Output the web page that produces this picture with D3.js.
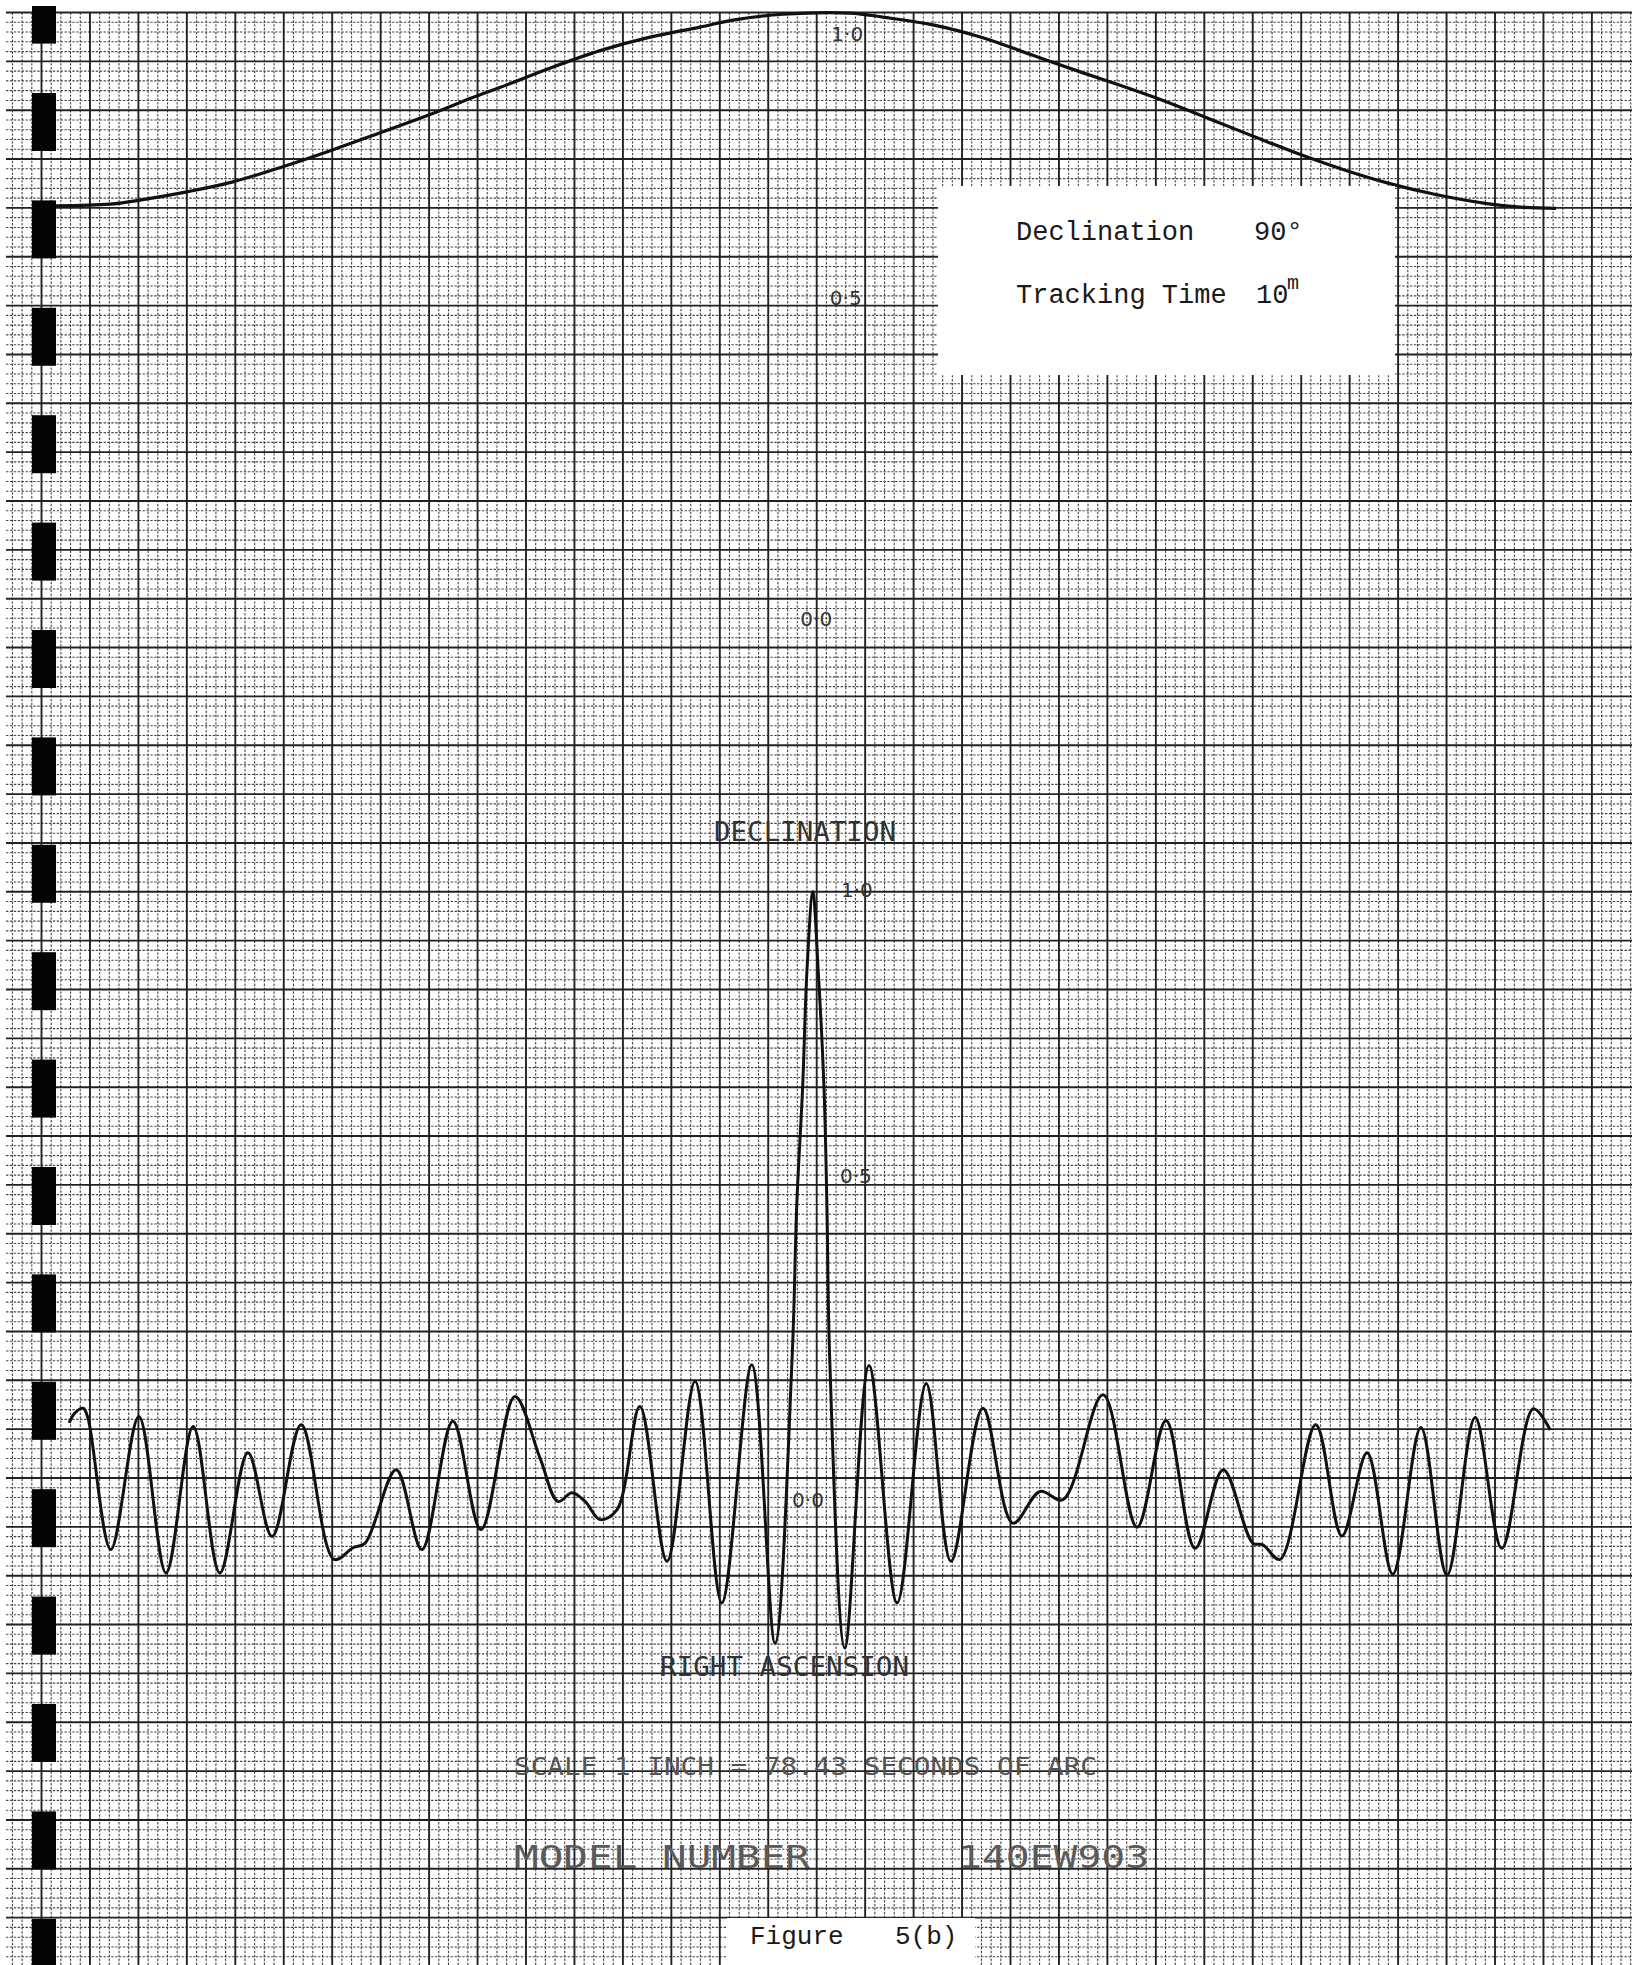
<!DOCTYPE html>
<html>
<head>
<meta charset="utf-8">
<script src="https://cdn.jsdelivr.net/npm/d3@7"></script>
<style>
  body { margin: 0; background: #fff; }
  svg { display: block; }
</style>
</head>
<body>
<svg id="chart" width="1632" height="1965"></svg>
<script>
const width = 1632;
const height = 1965;

// positions are in major grid divisions counted from the binder line
// top trace: declination response
const topPosition = [0.30, 1.41, 2.03, 3.00, 3.95, 4.98, 6.02, 6.99, 8.02, 8.90, 9.46,
  10.49, 11.53, 12.56, 13.59, 14.27, 15.30, 16.69, 17.37, 18.40, 19.43, 20.46, 21.50,
  22.26, 23.15, 24.06, 25.01, 25.97, 26.94, 27.83, 28.80, 29.83, 30.52, 31.26];
const topResponse = [0.670, 0.673, 0.680, 0.694, 0.711, 0.737, 0.766, 0.795, 0.826, 0.855, 0.872,
  0.905, 0.935, 0.958, 0.975, 0.987, 0.997, 0.999, 0.992, 0.979, 0.957, 0.927, 0.897,
  0.876, 0.850, 0.820, 0.789, 0.758, 0.730, 0.708, 0.689, 0.674, 0.668, 0.666];

// bottom trace: right ascension response
const bottomPosition = [0.57, 0.69, 0.86, 0.96, 1.43, 2.01, 2.57, 3.13, 3.68, 4.26, 4.76,
  5.36, 6.04, 6.43, 6.68, 7.32, 7.85, 8.49, 9.07, 9.77, 10.29, 10.66, 10.95, 11.22,
  11.53, 11.88, 12.35, 12.91, 13.49, 14.04, 14.66, 15.14, 15.49, 15.59, 15.71, 15.80,
  15.92, 16.03, 16.15, 16.21, 16.27, 16.58, 17.08, 17.66, 18.26, 18.77, 19.43, 20.05,
  20.61, 21.08, 21.91, 22.61, 23.21, 23.81, 24.39, 25.00, 25.21, 25.56, 26.30, 26.84,
  27.36, 27.89, 28.47, 29.01, 29.59, 30.14, 30.79, 31.14];
const bottomResponse = [0.094, 0.111, 0.119, 0.102, -0.122, 0.105, -0.162, 0.088, -0.162, 0.043, -0.100,
  0.091, -0.139, -0.119, -0.111, 0.014, -0.122, 0.097, -0.088, 0.139, 0.034, -0.040, -0.025, -0.040,
  -0.071, -0.054, 0.122, -0.142, 0.165, -0.213, 0.193, -0.282, 0.200, 0.469, 0.667, 0.867,
  1.000, 0.867, 0.667, 0.469, 0.200, -0.290, 0.192, -0.213, 0.161, -0.142, 0.119, -0.077,
  -0.023, -0.037, 0.142, -0.084, 0.098, -0.120, 0.014, -0.111, -0.114, -0.139, 0.091, -0.099,
  0.043, -0.164, 0.086, -0.166, 0.103, -0.120, 0.118, 0.082];

const tickValues = [1, 0.5, 0];
const tickLabels = ["1·0", "0·5", "0·0"];

const svg = d3.select("#chart");

// === PAPER GRID ===
const colStep = 48.45;
const rowStep = 48.85;
const gridLeft = 41.5;
const gridTop = 12.5;

const x = d3.scaleLinear().domain([0, 33]).range([gridLeft, gridLeft + 33 * colStep]);
const row = d3.scaleLinear().domain([0, 40]).range([gridTop, gridTop + 40 * rowStep]);
const yTop = d3.scaleLinear().domain([0, 1]).range([row(12), row(0)]);
const yBottom = d3.scaleLinear().domain([0, 1]).range([row(30), row(18)]);

svg.append("rect").attr("width", width).attr("height", height).attr("fill", "#fff");

const gridG = svg.append("g");

const cols = d3.range(-7, 33 * 5 + 1).map(i => ({ i, px: x(i / 5) }))
  .filter(d => d.px >= 6 && d.px <= width);
const rows = d3.range(0, 40 * 5 + 1).map(i => ({ i, px: row(i / 5) }))
  .filter(d => d.px <= height);

gridG.selectAll("line.vminor")
  .data(cols.filter(d => d.i % 5 !== 0))
  .join("line")
  .attr("x1", d => d.px).attr("x2", d => d.px)
  .attr("y1", gridTop).attr("y2", height)
  .attr("stroke", "#454545")
  .attr("stroke-width", 1.1)
  .attr("stroke-dasharray", "2.4,1.5");

gridG.selectAll("line.hminor")
  .data(rows.filter(d => d.i % 5 !== 0))
  .join("line")
  .attr("y1", d => d.px).attr("y2", d => d.px)
  .attr("x1", 6).attr("x2", width)
  .attr("stroke", "#454545")
  .attr("stroke-width", 1.1)
  .attr("stroke-dasharray", "2.4,1.5");

gridG.selectAll("line.vmajor")
  .data(cols.filter(d => d.i % 5 === 0))
  .join("line")
  .attr("x1", d => d.px).attr("x2", d => d.px)
  .attr("y1", gridTop).attr("y2", height)
  .attr("stroke", "#222")
  .attr("stroke-width", 1.9);

gridG.selectAll("line.hmajor")
  .data(rows.filter(d => d.i % 5 === 0))
  .join("line")
  .attr("y1", d => d.px).attr("y2", d => d.px)
  .attr("x1", 6).attr("x2", width)
  .attr("stroke", "#222")
  .attr("stroke-width", 1.9);

// binder holes down the left edge
const holes = d3.range(0, 19).map(i => 93 + 107.4 * (i - 1));
svg.append("g").selectAll("rect")
  .data(holes)
  .join("rect")
  .attr("x", 32)
  .attr("width", 24)
  .attr("y", d => Math.max(6, d))
  .attr("height", d => d + 58 - Math.max(6, d))
  .attr("fill", "#050505");

// === TRACES ===
const topLine = d3.line()
  .x(d => x(d[0]))
  .y(d => yTop(d[1]))
  .curve(d3.curveCatmullRom.alpha(0.5));

const bottomLine = d3.line()
  .x(d => x(d[0]))
  .y(d => yBottom(d[1]))
  .curve(d3.curveCatmullRom.alpha(0.5));

svg.append("path")
  .datum(d3.zip(topPosition, topResponse))
  .attr("d", topLine)
  .attr("fill", "none")
  .attr("stroke", "#111")
  .attr("stroke-width", 3.2)
  .attr("stroke-linejoin", "round");

svg.append("path")
  .datum(d3.zip(bottomPosition, bottomResponse))
  .attr("d", bottomLine)
  .attr("fill", "none")
  .attr("stroke", "#111")
  .attr("stroke-width", 3)
  .attr("stroke-linejoin", "round");

// === HAND-WRITTEN SCALE MARKS ===
const topTickX = [16.63, 16.6, 15.99];
const topTickDy = [21, -8, 20];
const bottomTickX = [16.83, 16.81, 15.82];
const bottomTickDy = [-2, -9, 22];

const tickText = g => g
  .attr("text-anchor", "middle")
  .attr("dominant-baseline", "central")
  .attr("font-family", "DejaVu Sans, sans-serif")
  .attr("font-size", 20)
  .attr("fill", "#333")
  .text((d, i) => tickLabels[i]);

svg.append("g").selectAll("text")
  .data(tickValues)
  .join("text")
  .attr("x", (d, i) => x(topTickX[i]))
  .attr("y", (d, i) => yTop(d) + topTickDy[i])
  .call(tickText);

svg.append("g").selectAll("text")
  .data(tickValues)
  .join("text")
  .attr("x", (d, i) => x(bottomTickX[i]))
  .attr("y", (d, i) => yBottom(d) + bottomTickDy[i])
  .call(tickText);

// === PLOTTER LABELS ===
const plotter = (s, x0, x1, y, size, color) => svg.append("text")
  .attr("x", x0)
  .attr("y", y)
  .attr("textLength", x1 - x0)
  .attr("lengthAdjust", "spacingAndGlyphs")
  .attr("font-family", "DejaVu Sans Mono, monospace")
  .attr("font-size", size)
  .attr("fill", color)
  .text(s);

plotter("DECLINATION", 714, 896, 841, 26, "#333");
plotter("RIGHT ASCENSION", 660, 909, 1676, 26, "#333");
plotter("SCALE 1 INCH = 78.43 SECONDS OF ARC", 514, 1097, 1775, 25, "#555");
plotter("MODEL NUMBER", 514, 810, 1868, 32, "#5a5a5a");
plotter("140EW903", 958, 1149, 1868, 32, "#5a5a5a");

// === TYPED LEGEND BOX ===
svg.append("rect")
  .attr("x", 938).attr("y", 186)
  .attr("width", 457).attr("height", 189)
  .attr("fill", "#fff");

const typed = (s, xx, yy, size) => svg.append("text")
  .attr("x", xx).attr("y", yy)
  .attr("font-family", "Courier New, Liberation Mono, monospace")
  .attr("font-size", size)
  .attr("fill", "#1a1a1a")
  .text(s);

typed("Declination", 1016, 240, 27);
typed("90°", 1254, 240, 27);
typed("Tracking Time", 1016, 303, 27);
typed("10", 1256, 303, 27);
typed("m", 1287, 289, 20);

// figure caption box
svg.append("rect")
  .attr("x", 727).attr("y", 1918)
  .attr("width", 248).attr("height", 47)
  .attr("fill", "#fff");

typed("Figure", 750, 1944, 26);
typed("5(b)", 895, 1944, 26);
</script>
</body>
</html>
